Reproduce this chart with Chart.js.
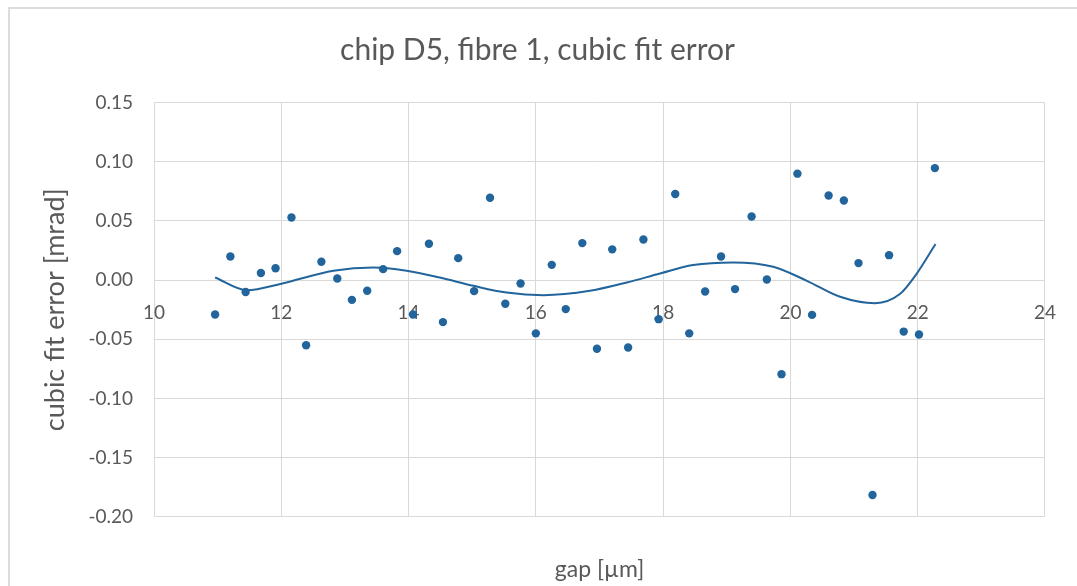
<!DOCTYPE html>
<html>
<head>
<meta charset="utf-8">
<script src="https://cdn.jsdelivr.net/npm/chart.js@4/dist/chart.umd.min.js"></script>
<style>
  html, body { margin: 0; padding: 0; background: #ffffff; }
  #wrap { position: relative; width: 1077px; height: 586px; overflow: hidden; }
  #frame { position: absolute; left: 8px; top: 7px; width: 1100px; height: 620px;
           border-top: 2px solid #dcdcdc; border-left: 2px solid #dcdcdc; pointer-events: none; }
  canvas { position: absolute; left: 0; top: 0; }
</style>
</head>
<body>
<div id="wrap">
  <canvas id="c" width="1077" height="586"></canvas>
  <div id="frame"></div>
</div>
<script>
const chartTitle = "chip D5, fibre 1, cubic fit error";
const xTitle = "gap [µm]";
const yTitle = "cubic fit error [mrad]";

const gapX = [10.96,11.20,11.44,11.68,11.91,12.16,12.39,12.63,12.88,13.11,13.35,13.60,13.82,14.07,14.32,14.54,14.78,15.03,15.28,15.52,15.76,16.00,16.25,16.47,16.73,16.96,17.20,17.45,17.69,17.93,18.19,18.41,18.66,18.91,19.13,19.39,19.63,19.86,20.11,20.34,20.60,20.84,21.07,21.29,21.55,21.78,22.02,22.27];
const errY = [-0.029,0.020,-0.010,0.006,0.010,0.053,-0.055,0.0155,0.0014,-0.0167,-0.009,0.0093,0.0245,-0.029,0.0307,-0.0355,0.0186,-0.0093,0.0696,-0.020,-0.0029,-0.045,0.0129,-0.0245,0.0313,-0.058,0.026,-0.057,0.0344,-0.033,0.0728,-0.045,-0.0096,0.020,-0.0076,0.0538,0.0005,-0.0795,0.090,-0.0294,0.0716,0.0673,0.0144,-0.1816,0.0211,-0.0435,-0.046,0.0947];

const fitX = [10.96,11.46,12.0,12.82,13.45,13.97,14.49,15.02,15.54,16.12,16.85,17.43,17.95,18.47,19.1,19.73,20.26,20.78,21.33,21.72,21.98,22.28];
const fitY = [0.0022,-0.0085,-0.003,0.0079,0.0107,0.0079,0.0022,-0.0048,-0.0105,-0.0127,-0.009,-0.002,0.0056,0.0127,0.0150,0.0113,-0.0006,-0.0141,-0.0195,-0.0118,0.0051,0.0305];

const xTicks = [10,12,14,16,18,20,22,24];
const yTicks = [-0.20,-0.15,-0.10,-0.05,0.00,0.05,0.10,0.15];

const FONT = "Lato, 'Open Sans', sans-serif";
const TXT = "#595959";
const GRID = "#d9d9d9";
const BLUE = "#22659c";

const pts = gapX.map((x, i) => ({x: x, y: errY[i]}));
const fit = fitX.map((x, i) => ({x: x, y: fitY[i]}));

new Chart(document.getElementById('c'), {
  type: 'scatter',
  data: {
    datasets: [
      { type: 'line', data: fit, borderColor: BLUE, borderWidth: 2, pointRadius: 0,
        fill: false, cubicInterpolationMode: 'monotone', order: 2 },
      { data: pts, backgroundColor: BLUE, borderColor: BLUE, pointRadius: 4.2,
        pointBorderWidth: 0, order: 1 }
    ]
  },
  options: {
    responsive: false,
    animation: false,
    devicePixelRatio: 1,
    layout: { padding: { left: 30, right: 32, top: 20, bottom: 0 } },
    plugins: {
      legend: { display: false },
      tooltip: { enabled: false },
      title: { display: true, text: chartTitle, color: TXT,
               font: { family: FONT, size: 30, weight: 'normal' },
               padding: { top: 12, bottom: 34.7 } },
      subtitle: { display: true, text: xTitle, position: 'bottom', fullSize: false, color: TXT,
               font: { family: FONT, size: 23, weight: 'normal' },
               padding: { top: 39.5, bottom: 2.2 } }
    },
    scales: {
      x: {
        type: 'linear', position: { y: 0 }, min: 10, max: 24,
        afterBuildTicks: (s) => { s.ticks = xTicks.map(v => ({ value: v })); },
        grid: { color: GRID, lineWidth: 1, drawTicks: false },
        border: { display: false },
        ticks: { color: TXT, font: { family: FONT, size: 19 }, padding: 21,
                 maxRotation: 0, callback: (v) => String(v) }
      },
      y: {
        type: 'linear', min: -0.2, max: 0.15,
        afterBuildTicks: (s) => { s.ticks = yTicks.map(v => ({ value: v })); },
        afterFit: (s) => { s.width = 124; },
        grid: { color: GRID, lineWidth: 1, drawTicks: false },
        border: { display: false },
        ticks: { color: TXT, font: { family: FONT, size: 19 }, padding: 21,
                 callback: (v) => Number(v).toFixed(2) },
        title: { display: true, text: yTitle, color: TXT,
                 font: { family: FONT, size: 27, weight: 'normal' },
                 padding: { top: 9, bottom: 0 } }
      }
    }
  }
});
</script>
</body>
</html>
